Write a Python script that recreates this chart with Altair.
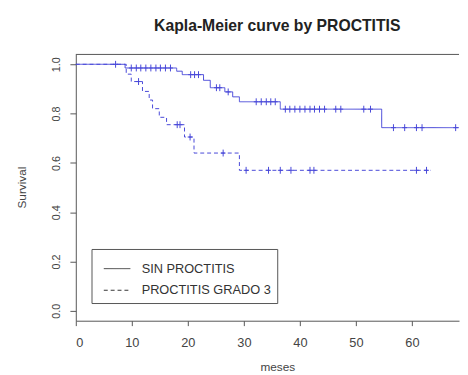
import altair as alt
import numpy as np
import pandas as pd

groups = ["SIN PROCTITIS", "PROCTITIS GRADO 3"]

# Kaplan-Meier steps (months, survival after the step)
solid_times = [0, 8.8, 18.0, 19.0, 22.8, 24.0, 26.6, 28.0, 29.2, 36.5, 54.6, 68.4]
solid_surv = [1.0, 0.985, 0.972, 0.958, 0.935, 0.905, 0.888, 0.868, 0.848, 0.818, 0.743, 0.743]
solid_censor = [7.1, 9.9, 10.8, 11.6, 12.5, 13.4, 14.3, 15.1, 16.0, 16.9,
                20.5, 21.2, 21.9, 25.1, 25.7, 27.2,
                32.2, 33.1, 34.0, 34.8, 35.6,
                37.4, 38.2, 39.1, 40.0, 40.9, 41.8, 42.6, 43.5, 44.4, 46.4, 47.3, 51.4, 52.6,
                56.7, 58.7, 60.8, 61.8, 67.8]

dashed_times = [0, 9.0, 9.9, 11.9, 13.1, 13.7, 14.9, 16.2, 19.4, 21.1, 29.2, 63.4]
dashed_surv = [1.0, 0.96, 0.93, 0.89, 0.855, 0.82, 0.785, 0.755, 0.705, 0.64, 0.57, 0.57]
dashed_censor = [11.2, 18.1, 18.6, 20.4, 26.3, 30.4, 34.4, 36.5, 38.4, 41.8, 42.5, 60.8, 62.6]

x_ticks = [0, 10, 20, 30, 40, 50, 60]
y_ticks = [0.0, 0.2, 0.4, 0.6, 0.8, 1.0]

BLUE = "#4646d8"
GREY = "#555555"
FONT = "Liberation Sans"


def censor_rows(times, surv, ctimes, group):
    t = np.array(times)
    s = np.array(surv)
    rows = []
    for c in ctimes:
        i = np.searchsorted(t, c, side="right") - 1
        rows.append({"time": c, "surv": float(s[i]), "group": group})
    return rows


line_df = pd.DataFrame(
    [{"time": a, "surv": b, "group": groups[0]} for a, b in zip(solid_times, solid_surv)]
    + [{"time": a, "surv": b, "group": groups[1]} for a, b in zip(dashed_times, dashed_surv)]
)
censor_df = pd.DataFrame(
    censor_rows(solid_times, solid_surv, solid_censor, groups[0])
    + censor_rows(dashed_times, dashed_surv, dashed_censor, groups[1])
)

x_scale = alt.Scale(domain=[0, 68.4], nice=False, zero=False)
y_scale = alt.Scale(domain=[-0.04, 1.04], nice=False, zero=False)

x_axis = alt.Axis(values=x_ticks, format="d", title="meses", grid=False,
                  tickSize=5, labelPadding=11, labelFontSize=13, labelFont=FONT,
                  labelColor="#444", domainColor=GREY, tickColor=GREY,
                  titleFont=FONT, titleFontSize=12, titleFontWeight="normal",
                  titleColor="#444", titleX=205, titleY=47, titleBaseline="middle",
                  titleAlign="center")
y_axis = alt.Axis(values=y_ticks, format=".1f", title="Survival", grid=False,
                  tickSize=6, labelPadding=9, labelFontSize=11, labelFont=FONT,
                  labelAngle=270, labelAlign="center", labelBaseline="bottom",
                  labelColor="#444", domainColor=GREY, tickColor=GREY,
                  titleFont=FONT, titleFontSize=12, titleFontWeight="normal",
                  titleColor="#444", titleX=-55, titleY=135, titleBaseline="middle",
                  titleAlign="center", titleAngle=270)

legend = alt.Legend(title=None, orient="none", legendX=16, legendY=198,
                    direction="vertical", symbolType="stroke", symbolSize=729,
                    symbolStrokeWidth=1, symbolStrokeColor="#333",
                    labelFontSize=13, labelFont=FONT, labelColor="#333",
                    labelOffset=11, padding=6, symbolOffset=6,
                    strokeColor=GREY, fillColor="white", rowPadding=1, labelLimit=300)

lines = alt.Chart(line_df).mark_line(interpolate="step-after", color=BLUE, strokeWidth=1).encode(
    x=alt.X("time:Q", scale=x_scale, axis=x_axis),
    y=alt.Y("surv:Q", scale=y_scale, axis=y_axis),
    strokeDash=alt.StrokeDash("group:N",
                              scale=alt.Scale(domain=groups, range=[[1, 0], [4, 3]]),
                              legend=legend),
)

censors = alt.Chart(censor_df).mark_point(
    shape="M-0.7,0L0.7,0M0,-1L0,1", filled=False, size=49, color=BLUE,
    strokeWidth=1, opacity=1
).encode(
    x=alt.X("time:Q", scale=x_scale),
    y=alt.Y("surv:Q", scale=y_scale),
)

top_edge = alt.Chart(alt.Data(values=[{}])).mark_rule(color=GREY, strokeWidth=1).encode(
    y=alt.datum(1.04)
)

chart = alt.layer(lines, censors, top_edge).properties(
    width=390, height=271,
    padding={"left": 69, "top": 44, "right": 1, "bottom": 52},
    autosize="none",
    background="white",
    title=alt.Title("Kapla-Meier curve by PROCTITIS", fontSize=16, font=FONT,
                    fontWeight="bold", color="#222", dx=10, anchor="middle",
                    baseline="alphabetic", offset=7),
).configure_view(stroke=None)

chart.save("out.html", embed_options={"renderer": "svg", "actions": False})
